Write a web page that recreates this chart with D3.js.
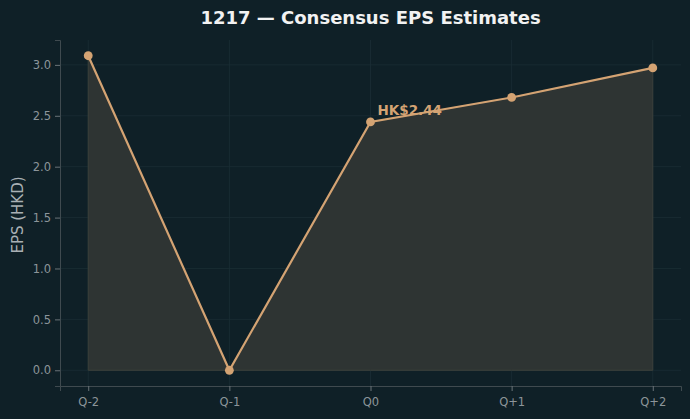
<!DOCTYPE html>
<html>
<head>
<meta charset="utf-8">
<script src="https://cdn.jsdelivr.net/npm/d3@7"></script>
<style>
  html, body { margin: 0; padding: 0; background: #0f2027; }
  svg { display: block; }
</style>
</head>
<body>
<script>
// chart data
const quarters = ['Q-2', 'Q-1', 'Q0', 'Q+1', 'Q+2'];
const eps = [3.09, 0.0, 2.44, 2.68, 2.97];
const yTicks = [0.0, 0.5, 1.0, 1.5, 2.0, 2.5, 3.0];
const highlightIndex = 2;

const width = 690, height = 419;
const margin = { top: 40, right: 9, bottom: 33, left: 60 };

const svg = d3.select('body').append('svg')
  .attr('width', width)
  .attr('height', height);

svg.append('rect')
  .attr('width', width).attr('height', height)
  .attr('fill', '#0f2027');

const idx = quarters.map((d, i) => i);
const x = d3.scaleLinear()
  .domain([-0.2, quarters.length - 1 + 0.2])
  .range([margin.left, width - margin.right]);

const yMax = d3.max(eps), yMin = 0;
const pad = (yMax - yMin) * 0.05;
const y = d3.scaleLinear()
  .domain([yMin - pad, yMax + pad])
  .range([height - margin.bottom, margin.top]);

// grid
const grid = svg.append('g').attr('stroke', '#1b2d35').attr('stroke-width', 0.8);
yTicks.forEach(t => {
  grid.append('line')
    .attr('x1', x.range()[0]).attr('x2', x.range()[1])
    .attr('y1', y(t)).attr('y2', y(t));
});
idx.forEach(i => {
  grid.append('line')
    .attr('x1', x(i)).attr('x2', x(i))
    .attr('y1', y.range()[0]).attr('y2', y.range()[1]);
});

// area under line
const area = d3.area()
  .x((d, i) => x(i))
  .y0(y(0))
  .y1(d => y(d));

svg.append('path')
  .datum(eps)
  .attr('fill', '#2e3433')
  .attr('stroke', '#3c413b')
  .attr('stroke-width', 1)
  .attr('d', area);

// line
const line = d3.line()
  .x((d, i) => x(i))
  .y(d => y(d));

svg.append('path')
  .datum(eps)
  .attr('fill', 'none')
  .attr('stroke', '#d4a373')
  .attr('stroke-width', 2.2)
  .attr('d', line);

svg.selectAll('circle.pt')
  .data(eps)
  .enter().append('circle')
  .attr('class', 'pt')
  .attr('cx', (d, i) => x(i))
  .attr('cy', d => y(d))
  .attr('r', 4.4)
  .attr('fill', '#d4a373');

// annotation
svg.append('text')
  .attr('x', x(highlightIndex) + 7)
  .attr('y', y(eps[highlightIndex]) - 7)
  .attr('fill', '#d4a373')
  .attr('font-family', 'DejaVu Sans')
  .attr('font-weight', 'bold')
  .attr('font-size', '13.5px')
  .text('HK$' + eps[highlightIndex].toFixed(2));

// axes
const xAxis = d3.axisBottom(x)
  .tickValues(idx)
  .tickFormat(i => quarters[i])
  .tickSize(5)
  .tickPadding(7);

const yAxis = d3.axisLeft(y)
  .tickValues(yTicks)
  .tickFormat(d3.format('.1f'))
  .tickSize(5)
  .tickPadding(4);

const gx = svg.append('g')
  .attr('transform', `translate(0,${height - margin.bottom})`)
  .call(xAxis);
const gy = svg.append('g')
  .attr('transform', `translate(${margin.left},0)`)
  .call(yAxis);

[gx, gy].forEach(g => {
  g.select('.domain').attr('stroke', '#3f4a4f');
  g.selectAll('.tick line').attr('stroke', '#6a7378');
  g.selectAll('.tick text')
    .attr('fill', '#8c959a')
    .attr('font-family', 'DejaVu Sans')
    .attr('font-size', '11.5px');
});

// y label
svg.append('text')
  .attr('transform', `translate(23,${(margin.top + height - margin.bottom) / 2 + 2}) rotate(-90)`)
  .attr('text-anchor', 'middle')
  .attr('fill', '#a9b0b4')
  .attr('font-family', 'DejaVu Sans')
  .attr('font-size', '15px')
  .text('EPS (HKD)');

// title
svg.append('text')
  .attr('x', (margin.left + width - margin.right) / 2)
  .attr('y', 24)
  .attr('text-anchor', 'middle')
  .attr('fill', '#f2f2f2')
  .attr('font-family', 'DejaVu Sans')
  .attr('font-weight', 'bold')
  .attr('font-size', '18px')
  .text('1217 \u2014 Consensus EPS Estimates');
</script>
</body>
</html>
